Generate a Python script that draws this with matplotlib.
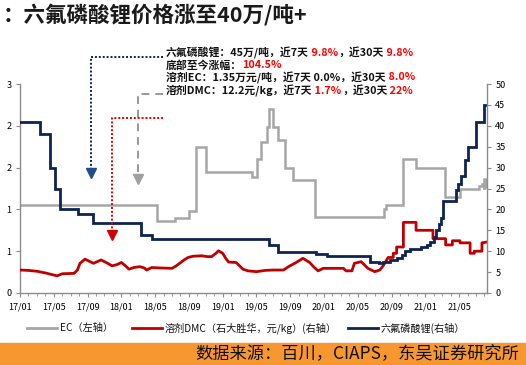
import matplotlib
matplotlib.use('Agg')
import matplotlib.pyplot as plt
from matplotlib.lines import Line2D
from matplotlib.ticker import FixedLocator, FixedFormatter, MultipleLocator

plt.rcParams['font.family'] = ['Noto Sans CJK SC', 'DejaVu Sans']

W, H = 526, 365

# x values: months since 2017-01
x_ticks = [0, 4, 8, 12, 16, 20, 24, 28, 32, 36, 40, 44, 48, 52]
x_tick_labels = ["17/01", "17/05", "17/09", "18/01", "18/05", "18/09", "19/01",
                 "19/05", "19/09", "20/01", "20/05", "20/09", "21/01", "21/05"]

left_ticks = [0, 0.5, 1.0, 1.5, 2.0, 2.5]
left_tick_labels = ["0", "1", "1", "2", "2", "3"]
right_ticks = [0, 5, 10, 15, 20, 25, 30, 35, 40, 45, 50]

# EC (万元/吨, left axis), step series
ec_t = [0, 16.2, 18.3, 20.0, 20.8, 22.0, 27.5, 28.1, 28.5, 29.2, 29.5, 29.9, 30.6,
        31.4, 32.3, 34.9, 43.1, 43.3, 45.3, 46.9, 50.3, 52.1, 54.4, 54.7, 54.9, 55.0,
        55.1, 55.2, 55.3]
ec_v = [1.05, 0.86, 0.90, 0.98, 1.75, 1.45, 1.39, 1.60, 1.81, 1.99, 2.20, 1.99, 1.83,
        1.49, 1.35, 0.905, 1.00, 1.05, 1.60, 1.50, 1.15, 1.25, 1.28, 1.30, 1.25, 1.36,
        1.27, 1.35, 1.35]

# DMC (元/kg, right axis)
dmc_t = [0, 1, 2, 3, 4, 4.4, 5, 6.4, 6.8, 7.1, 7.7, 8.2, 8.7, 9.6, 10.2, 10.9, 11.5,
         12.0, 12.5, 12.9, 13.5, 14.2, 14.7, 15.0, 15.6, 16.5, 18.0, 18.5, 18.9, 19.5,
         19.9, 20.5, 21.5, 22.2, 22.7, 23.2, 23.5, 24.0, 24.4, 24.7, 25.6, 26.0, 26.4,
         27.0, 28.0, 29.0, 30.0, 31.2, 31.8, 32.7, 33.5, 34.3, 34.8, 35.3, 35.9, 38.3,
         38.6, 39.3, 39.6, 40.4, 41.2, 42.0, 42.6, 43.0, 43.3, 43.6, 44.2, 44.2, 44.6,
         44.6, 45.4, 45.4, 46.9, 46.9, 48.9, 48.9, 50.4, 50.4, 51.2, 51.2, 52.1, 52.1,
         53.3, 53.3, 53.8, 53.8, 54.7, 54.7, 55.3]
dmc_v = [5.5, 5.4, 5.2, 4.8, 4.3, 4.1, 4.6, 4.7, 5.5, 7.1, 8.1, 7.6, 7.1, 7.9, 7.3, 6.5, 6.8,
         7.3, 6.5, 5.7, 6.1, 6.3, 6.0, 5.5, 6.1, 6.0, 5.9, 6.5, 7.1, 8.0,
         8.5, 8.8, 8.9, 8.7, 8.7, 9.5, 10.1, 9.5, 8.2, 7.4, 7.3, 6.5, 5.7,
         5.3, 5.1, 5.4, 5.5, 5.5, 6.3, 7.3, 8.3, 7.3, 6.2, 5.3, 5.9, 5.9,
         5.3, 5.3, 7.1, 7.5, 5.9, 5.1, 5.5, 6.5, 7.5, 8.5, 8.5, 9.5, 9.5,
         11.0, 11.0, 16.9, 16.9, 15.0, 15.0, 13.0, 13.0, 11.5, 11.5, 12.5, 12.5, 12.0,
         12.0, 9.5, 9.5, 10.0, 10.0, 12.0, 12.2]

# LiPF6 (万元/吨, right axis), step series
lipf6_t = [0, 2.4, 3.6, 4.2, 4.7, 6.9, 8.6, 14.3, 15.6, 29.5, 30.6, 35.1, 36.3, 41.5,
           42.5, 43.0, 43.8, 44.6, 45.2, 45.6, 46.2, 46.9, 47.5, 48.2, 48.6, 49.0, 49.3,
           49.6, 49.9, 50.1, 51.6, 51.9, 52.2, 52.7, 53.0, 54.0, 55.0, 55.3]
lipf6_v = [40.8, 38.0, 29.8, 25.0, 20.0, 18.9, 16.8, 13.9, 12.8, 11.5, 9.9, 9.3, 8.9, 7.5,
           7.2, 7.3, 7.8, 8.4, 9.2, 10.0, 10.5, 10.5, 11.0, 11.5, 12.3, 13.5, 15.0,
           16.5, 18.0, 22.0, 24.6, 26.0, 28.0, 31.8, 35.0, 41.0, 45.0, 45.0]

GRAY = '#A6A6A6'
RED = '#C00000'
NAVY = '#0D2452'
AXC = '#8C8C8C'

fig = plt.figure(figsize=(W / 100, H / 100), dpi=100)
fig.patch.set_facecolor('white')


def fx(x):
    return x / W


def fy(y):
    return 1 - y / H


ax = fig.add_axes([fx(20), fy(293), (487 - 20) / W, (293 - 84) / H])
ax2 = ax.twinx()

ax.plot(ec_t, ec_v, color=GRAY, lw=1.8, drawstyle='steps-post', solid_joinstyle='miter')
ax2.plot(dmc_t, dmc_v, color=RED, lw=2.0)
ax2.plot(lipf6_t, lipf6_v, color=NAVY, lw=2.0, drawstyle='steps-post', solid_joinstyle='miter')

ax.set_xlim(0, 55.3)
ax.set_ylim(0, 2.5)
ax2.set_ylim(0, 50)

ax.yaxis.set_major_locator(FixedLocator(left_ticks))
ax.yaxis.set_major_formatter(FixedFormatter(left_tick_labels))
ax2.yaxis.set_major_locator(FixedLocator(right_ticks))
ax.xaxis.set_major_locator(FixedLocator(x_ticks))
ax.xaxis.set_major_formatter(FixedFormatter(x_tick_labels))
ax.xaxis.set_minor_locator(MultipleLocator(1))

for a in (ax, ax2):
    a.spines['top'].set_visible(False)
    for s in ('left', 'right', 'bottom'):
        a.spines[s].set_color(AXC)
        a.spines[s].set_linewidth(1.0)
ax.spines['right'].set_visible(False)
ax2.spines['left'].set_visible(False)
ax2.spines['bottom'].set_visible(False)

ax.tick_params(axis='y', direction='out', length=3, width=0.8, color=AXC, labelsize=6.5, pad=3)
ax2.tick_params(axis='y', direction='out', length=3, width=0.8, color=AXC, labelsize=6.5, pad=3)
ax.tick_params(axis='x', which='major', direction='out', length=3, width=0.8, color=AXC,
               labelsize=6.5, pad=4)
ax.tick_params(axis='x', which='minor', direction='out', length=2, width=0.6, color=AXC)

# Title
fig.text(fx(3), fy(15), '：六氟磷酸锂价格涨至40万/吨+', fontsize=15.5, fontweight='bold',
         color='#1a1a1a', ha='left', va='center')

# Annotation text with coloured parts
renderer = fig.canvas.get_renderer()


def rich(x, y, parts, size=7.8):
    for s, c in parts:
        t = fig.text(fx(x), fy(y), s, color=c, fontsize=size, fontweight='bold',
                     ha='left', va='center')
        bb = t.get_window_extent(renderer)
        x += bb.width


BLK = '#111111'
RR = '#FF0000'
rich(166, 52.5, [('六氟磷酸锂：45万/吨，近7天', BLK), (' 9.8%', RR), ('，近30天', BLK), (' 9.8%', RR)])
rich(166, 65, [('底部至今涨幅：', BLK), ('104.5%', RR)])
rich(166, 77.5, [('溶剂EC：1.35万元/吨，近7天 0.0%，近30天', BLK), (' 8.0%', RR)])
rich(166, 90.5, [('溶剂DMC：12.2元/kg，近7天', BLK), (' 1.7%', RR), ('，近30天', BLK), (' 22%', RR)])


# Pointer lines with triangles
def fl(xs, ys, **kw):
    fig.add_artist(Line2D([fx(v) for v in xs], [fy(v) for v in ys], **kw))


fl([163, 91, 91], [56.7, 56.7, 168], color=NAVY, lw=1.4, ls=(0, (1, 1)))
fl([91], [172.5], marker='v', color='#1F4E8C', markersize=7, ls='none')
fl([163, 137.5, 137.5], [93.5, 93.5, 175], color='#999999', lw=1.4, ls=(0, (4, 3)))
fl([137.5], [179], marker='v', color='#A0A0A0', markersize=7, ls='none')
fl([163, 111.7, 111.7], [118.3, 118.3, 231], color='#E00000', lw=1.4, ls=(0, (1, 1)))
fl([111.7], [235.5], marker='v', color='#D00000', markersize=7, ls='none')

# Legend
leg_y = 328
leg_items = [(27, 57, GRAY, 'EC（左轴）'),
             (132, 162, RED, '溶剂DMC（石大胜华，元/kg）(右轴）'),
             (348, 378, NAVY, '六氟磷酸锂(右轴）')]
for x0, x1, c, lab in leg_items:
    fl([x0, x1], [leg_y, leg_y], color=c, lw=2.0)
    fig.text(fx(x1 + 3), fy(leg_y), lab, fontsize=7.3, color=BLK, ha='left', va='center')

# Bottom orange band with source
fig.add_artist(plt.Rectangle((0, 0), 1, fy(342.5), transform=fig.transFigure,
                             color='#F7972F', zorder=0))
fig.text(fx(519), fy(354), '数据来源：百川，CIAPS，东吴证券研究所', fontsize=12.4,
         color='#111111', ha='right', va='center')

fig.savefig('out.png', dpi=100)
